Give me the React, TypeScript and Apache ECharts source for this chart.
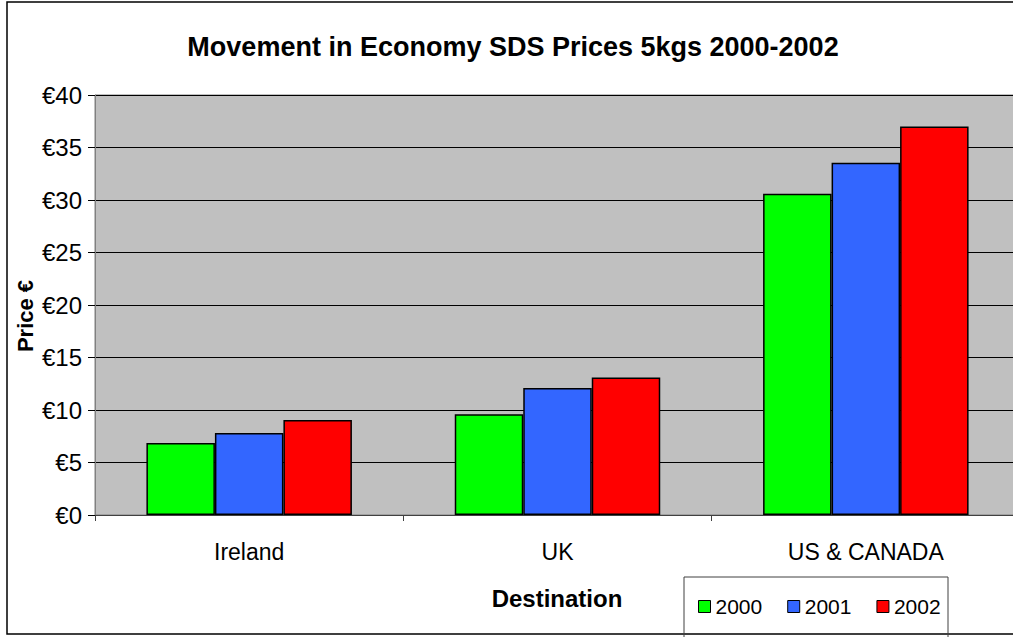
import React, { useEffect, useRef } from "react";
import * as echarts from "echarts";

const categories = ["Ireland", "UK", "US & CANADA"];
const years = ["2000", "2001", "2002"];
const values2000 = [6.85, 9.6, 30.6];
const values2001 = [7.8, 12.1, 33.55];
const values2002 = [9.05, 13.1, 37.0];
const colors = ["#00FF00", "#3366FF", "#FF0000"];
const yTicks = { min: 0, max: 40, interval: 5 };

const FONT = "'Liberation Sans', Arial, sans-serif";

export default function App() {
  const ref = useRef<HTMLDivElement>(null);
  useEffect(() => {
    if (!ref.current) return;
    const chart = echarts.init(ref.current, null, { renderer: "svg" });
    const seriesData = [values2000, values2001, values2002];
    chart.setOption({
      animation: false,
      backgroundColor: "#FFFFFF",
      textStyle: { fontFamily: FONT, color: "#000" },
      grid: {
        left: 95,
        top: 95,
        width: 925,
        height: 420,
        show: true,
        backgroundColor: "#C0C0C0",
        borderColor: "#808080",
        borderWidth: 1,
      },
      legend: {
        data: years,
        left: 698,
        top: 596,
        padding: 0,
        itemWidth: 12,
        itemHeight: 12,
        itemGap: 25,
        icon: "rect",
        textStyle: { fontSize: 21, fontFamily: FONT, color: "#000" },
        itemStyle: { borderColor: "#000", borderWidth: 1 },
      },
      xAxis: {
        type: "category",
        data: categories,
        axisLine: { lineStyle: { color: "#404040", width: 1 } },
        axisTick: { show: true, length: 6, alignWithLabel: false, lineStyle: { color: "#404040" } },
        axisLabel: { fontSize: 23, color: "#000", margin: 25, fontFamily: FONT },
      },
      yAxis: {
        type: "value",
        min: yTicks.min,
        max: yTicks.max,
        interval: yTicks.interval,
        axisLine: { show: true, lineStyle: { color: "#808080", width: 1 } },
        axisTick: { show: true, length: 7, lineStyle: { color: "#000" } },
        axisLabel: {
          fontSize: 24,
          color: "#000",
          margin: 13,
          fontFamily: FONT,
          formatter: (v: number) => "€" + v,
        },
        splitLine: { lineStyle: { color: "#000", width: 1 } },
      },
      series: years.map((y, i) => ({
        name: y,
        type: "bar",
        data: seriesData[i],
        barGap: "0%",
        barWidth: 68.5,
        itemStyle: { color: colors[i], borderColor: "#000", borderWidth: 1.5 },
      })),
      graphic: [
        {
          type: "rect",
          shape: { x: 7, y: 2, width: 1030, height: 632 },
          style: { fill: "none", stroke: "#000", lineWidth: 1.5 },
          silent: true,
        },
        {
          type: "rect",
          shape: { x: 684, y: 577, width: 264, height: 80 },
          style: { fill: "none", stroke: "#404040", lineWidth: 1 },
          silent: true,
        },
        {
          type: "text",
          x: 513,
          y: 47,
          style: {
            text: "Movement in Economy SDS Prices 5kgs 2000-2002",
            fontSize: 27,
            fontWeight: "bold",
            fontFamily: FONT,
            fill: "#000",
            align: "center",
            verticalAlign: "middle",
          },
        },
        {
          type: "text",
          x: 557,
          y: 598,
          style: {
            text: "Destination",
            fontSize: 24,
            fontWeight: "bold",
            fontFamily: FONT,
            fill: "#000",
            align: "center",
            verticalAlign: "middle",
          },
        },
        {
          type: "text",
          x: 25,
          y: 316,
          rotation: Math.PI / 2,
          style: {
            text: "Price €",
            fontSize: 22,
            fontWeight: "bold",
            fontFamily: FONT,
            fill: "#000",
            align: "center",
            verticalAlign: "middle",
          },
        },
      ],
    });
    return () => chart.dispose();
  }, []);
  return (
    <div
      style={{ position: "fixed", left: 0, top: 0, width: 1013, height: 637, overflow: "hidden" }}
    >
      <div ref={ref} style={{ width: 1040, height: 637 }} />
    </div>
  );
}
